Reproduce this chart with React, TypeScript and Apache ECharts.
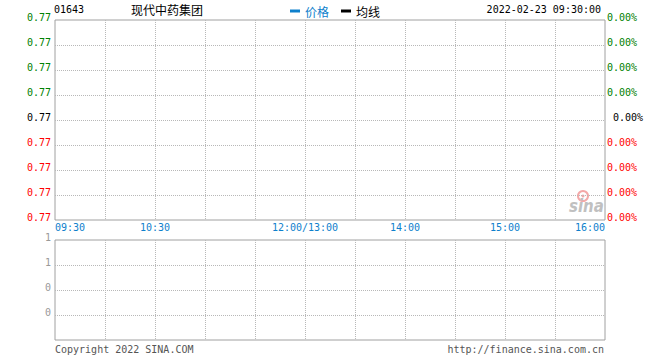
import React, { useEffect, useRef } from "react";
import * as echarts from "echarts";

const stockCode = "01643";
const stockName = "现代中药集团";
const dateTime = "2022-02-23 09:30:00";
const legendNames = ["价格", "均线"];
// minutes since 09:30 on a compressed HK trading day (lunch break removed)
const timeTickMinutes = [0, 60, 150, 210, 270, 330];
const timeTickLabels = ["09:30", "10:30", "12:00/13:00", "14:00", "15:00", "16:00"];
const priceTicks = ["0.77", "0.77", "0.77", "0.77", "0.77", "0.77", "0.77", "0.77", "0.77"]; // bottom -> top
const pctTicks = ["0.00%", "0.00%", "0.00%", "0.00%", " 0.00%", "0.00%", "0.00%", "0.00%", "0.00%"];
const tickColors = ["#ff0000", "#ff0000", "#ff0000", "#ff0000", "#000000", "#008000", "#008000", "#008000", "#008000"];
const volumeTicks = ["", "0", "0", "1", "1"]; // bottom -> top
const priceData: [number, number][] = [[0, 4]];
const avgData: [number, number][] = [[0, 4]];
const volumeData: [number, number][] = [];

const BLUE = "#0e80cc";
const GRID = "#b8b8b8";
const BORDER = "#a0a0a0";
const MONO = "'DejaVu Sans Mono', 'Liberation Mono', monospace";
const CJK = "'Noto Sans CJK SC', sans-serif";

export default function App() {
  const ref = useRef<HTMLDivElement>(null);
  useEffect(() => {
    const chart = echarts.init(ref.current!, null, { renderer: "svg" });
    const splitLine = {
      show: true,
      showMinLine: false,
      showMaxLine: false,
      lineStyle: { color: GRID, type: [1, 1] as any, width: 1 },
    };
    const xCommon = {
      type: "value" as const,
      min: 0,
      max: 330,
      interval: 30,
      axisLine: { show: false },
      axisTick: { show: false },
      splitLine,
    };
    const raised = { verticalAlign: "bottom" as const, lineHeight: 6 };
    chart.setOption({
      animation: false,
      backgroundColor: "#ffffff",
      legend: {
        left: 285,
        top: 0,
        icon: "rect",
        itemWidth: 10,
        itemHeight: 3,
        itemGap: 12,
        selectedMode: false,
        textStyle: { fontFamily: CJK, fontSize: 12 },
        data: [
          { name: legendNames[0], textStyle: { color: BLUE } },
          { name: legendNames[1], textStyle: { color: "#000000" } },
        ],
      },
      grid: [
        { left: 55, top: 20, width: 550, height: 200, show: true, borderColor: BORDER, borderWidth: 1, backgroundColor: "transparent" },
        { left: 55, top: 240, width: 550, height: 100, show: true, borderColor: BORDER, borderWidth: 1, backgroundColor: "transparent" },
      ],
      xAxis: [
        {
          ...xCommon,
          gridIndex: 0,
          axisLabel: {
            show: true,
            margin: 2,
            color: BLUE,
            fontFamily: MONO,
            fontSize: 10,
            showMinLabel: true,
            showMaxLabel: true,
            alignMinLabel: "left",
            alignMaxLabel: "right",
            formatter: (v: number) => {
              const i = timeTickMinutes.indexOf(v);
              return i >= 0 ? timeTickLabels[i] : "";
            },
          },
        },
        { ...xCommon, gridIndex: 1, axisLabel: { show: false } },
      ],
      yAxis: [
        {
          type: "value",
          gridIndex: 0,
          min: 0,
          max: 8,
          interval: 1,
          position: "left",
          axisLine: { show: false },
          axisTick: { show: false },
          splitLine,
          axisLabel: {
            margin: 4,
            fontFamily: MONO,
            fontSize: 10,
            ...raised,
            color: (_v: any, i: number) => tickColors[i],
            formatter: (_v: number, i: number) => priceTicks[i],
          },
        },
        {
          type: "value",
          gridIndex: 0,
          min: 0,
          max: 8,
          interval: 1,
          position: "right",
          axisLine: { show: false },
          axisTick: { show: false },
          splitLine: { show: false },
          axisLabel: {
            margin: 2,
            fontFamily: MONO,
            fontSize: 10,
            ...raised,
            color: (_v: any, i: number) => tickColors[i],
            formatter: (_v: number, i: number) => pctTicks[i],
          },
        },
        {
          type: "value",
          gridIndex: 1,
          min: 0,
          max: 4,
          interval: 1,
          axisLine: { show: false },
          axisTick: { show: false },
          splitLine,
          axisLabel: {
            margin: 4,
            color: "#999999",
            fontFamily: MONO,
            fontSize: 10,
            ...raised,
            formatter: (_v: number, i: number) => volumeTicks[i],
          },
        },
      ],
      series: [
        {
          name: legendNames[0],
          type: "line",
          xAxisIndex: 0,
          yAxisIndex: 0,
          data: priceData,
          showSymbol: false,
          itemStyle: { color: BLUE },
          lineStyle: { color: BLUE, width: 1 },
        },
        {
          name: legendNames[1],
          type: "line",
          xAxisIndex: 0,
          yAxisIndex: 0,
          data: avgData,
          showSymbol: false,
          itemStyle: { color: "#000000" },
          lineStyle: { color: "#000000", width: 1 },
        },
        {
          name: "成交量",
          type: "bar",
          xAxisIndex: 1,
          yAxisIndex: 2,
          data: volumeData,
        },
      ],
      graphic: [
        { type: "text", x: 54, y: 9, style: { text: stockCode, font: `10px ${MONO}`, fill: "#000", verticalAlign: "middle" } },
        { type: "text", x: 131, y: 9, style: { text: stockName, font: `12px ${CJK}`, fill: "#000", verticalAlign: "middle" } },
        { type: "text", x: 601, y: 9, style: { text: dateTime, font: `10px ${MONO}`, fill: "#000", align: "right", verticalAlign: "middle" } },
        { type: "text", x: 55, y: 349, style: { text: "Copyright 2022 SINA.COM", font: `10px ${MONO}`, fill: "#555", verticalAlign: "middle" } },
        { type: "text", x: 604, y: 349, style: { text: "http://finance.sina.com.cn", font: `10px ${MONO}`, fill: "#555", align: "right", verticalAlign: "middle" } },
        {
          type: "group",
          x: 569,
          y: 191,
          children: [
            { type: "circle", shape: { cx: 14, cy: 5, r: 5 }, style: { fill: "none", stroke: "#f4a8a8", lineWidth: 2 } },
            { type: "circle", shape: { cx: 14, cy: 5, r: 1.5 }, style: { fill: "#f4a8a8" } },
            { type: "text", x: 0, y: 15, scaleY: 1.2, style: { text: "sina", font: `italic bold 15px 'DejaVu Sans', sans-serif`, fill: "#c0c0c0", verticalAlign: "middle" } },
          ],
        },
      ],
    });
    return () => chart.dispose();
  }, []);
  return <div ref={ref} style={{ position: "fixed", left: 0, top: 0, width: 660, height: 360 }} />;
}
